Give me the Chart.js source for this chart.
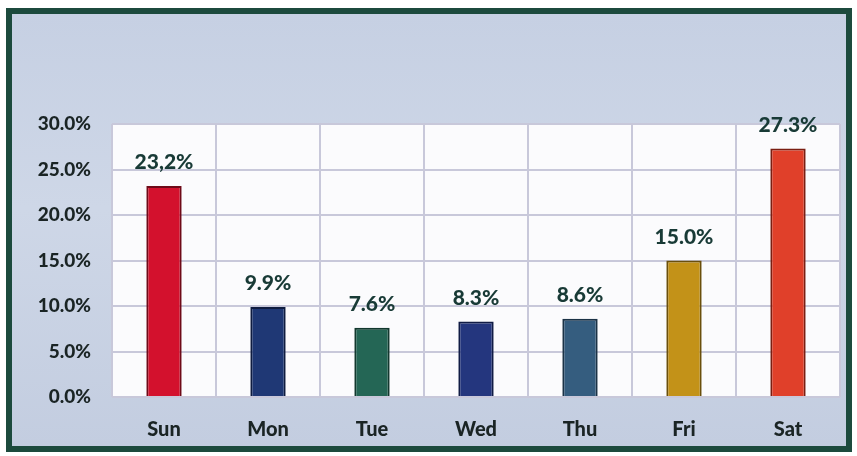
<!DOCTYPE html>
<html>
<head>
<meta charset="utf-8">
<script src="https://cdn.jsdelivr.net/npm/chart.js@4"></script>
<style>
  body { margin: 0; background: #ffffff; }
  #wrap { position: relative; width: 857px; height: 456px; overflow: hidden; }
  #frame {
    position: absolute; left: 6px; top: 8px; width: 846px; height: 444px;
    box-sizing: border-box; border: 6px solid #1c4a3d;
    background: linear-gradient(180deg, #c6d0e3 0%, #ced7e7 45%, #c3cde0 100%);
  }
  #chart { position: absolute; left: 0; top: 0; }
</style>
</head>
<body>
<div id="wrap">
  <div id="frame"></div>
  <canvas id="chart" width="857" height="456"></canvas>
</div>
<script>
// ===== DATA =====
const days = ["Sun", "Mon", "Tue", "Wed", "Thu", "Fri", "Sat"];
const shares = [23.2, 9.9, 7.6, 8.3, 8.6, 15.0, 27.3];
const shareLabels = ["23,2%", "9.9%", "7.6%", "8.3%", "8.6%", "15.0%", "27.3%"];
const barColors = ["#d3112d", "#1f3875", "#246655", "#24367e", "#355d7f", "#c39218", "#e0402a"];
const barEdges = ["#6e0a18", "#0f1c40", "#12382e", "#111c45", "#1b3246", "#6a4f0c", "#7a1e12"];

const fontFamily = "Lato, 'Open Sans', sans-serif";

// white plot area
const plotBg = {
  id: "plotBg",
  beforeDraw(chart) {
    const { ctx, chartArea: a } = chart;
    ctx.save();
    ctx.fillStyle = "#fbfbfd";
    ctx.fillRect(a.left, a.top, a.right - a.left, a.bottom - a.top);
    ctx.restore();
  }
};

// value labels above bars
const valueLabels = {
  id: "valueLabels",
  afterDatasetsDraw(chart) {
    const { ctx } = chart;
    const meta = chart.getDatasetMeta(0);
    ctx.save();
    ctx.font = "900 21px " + fontFamily;
    ctx.fillStyle = "#183a36";
    ctx.textAlign = "center";
    ctx.textBaseline = "bottom";
    meta.data.forEach((bar, i) => {
      ctx.fillText(shareLabels[i], bar.x, bar.y - 13);
    });
    ctx.restore();
  }
};

new Chart(document.getElementById("chart"), {
  type: "bar",
  data: {
    labels: days,
    datasets: [{
      data: shares,
      backgroundColor: barColors,
      borderColor: barEdges,
      borderWidth: 2,
      categoryPercentage: 1,
      barPercentage: 0.34
    }]
  },
  options: {
    responsive: false,
    animation: false,
    layout: { padding: { left: 0, right: 17, top: 124, bottom: 9 } },
    plugins: { legend: { display: false }, tooltip: { enabled: false } },
    scales: {
      x: {
        grid: { color: "#c8c8da", lineWidth: 2, drawTicks: false, offset: true },
        border: { display: false },
        ticks: {
          color: "#1a2424",
          padding: 21,
          font: { family: fontFamily, size: 20, weight: "900" }
        },
        afterFit(axis) { axis.height = 50; }
      },
      y: {
        min: 0,
        max: 30,
        grid: { color: "#c8c8da", lineWidth: 2, drawTicks: false },
        border: { display: false },
        ticks: {
          stepSize: 5,
          color: "#1a2424",
          padding: 21,
          font: { family: fontFamily, size: 19, weight: "900" },
          callback: v => v.toFixed(1) + "%"
        },
        afterFit(axis) { axis.width = 112; }
      }
    }
  },
  plugins: [plotBg, valueLabels]
});
</script>
</body>
</html>
